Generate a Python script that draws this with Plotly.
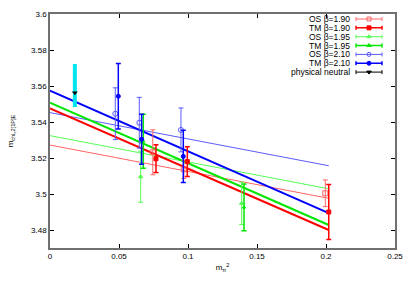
import plotly.graph_objects as go

# ---- data ----
os190_x = [0.0745, 0.0970, 0.1995]
os190_y = [3.5232, 3.5137, 3.5004]
os190_e = [0.0125, 0.0050, 0.0074]

tm190_x = [0.0768, 0.0995, 0.2020]
tm190_y = [3.5196, 3.5180, 3.4900]
tm190_e = [0.0077, 0.0083, 0.0153]

os195_x = [0.0657, 0.1389]
os195_y = [3.5096, 3.4948]
os195_e = [0.0142, 0.0118]

tm195_x = [0.0676, 0.1406]
tm195_y = [3.5293, 3.4926]
tm195_e = [0.0150, 0.0130]

os210_x = [0.0473, 0.0647, 0.0949]
os210_y = [3.5446, 3.5396, 3.5356]
os210_e = [0.0144, 0.0141, 0.0122]

tm210_x = [0.0495, 0.0664, 0.0966]
tm210_y = [3.5543, 3.5304, 3.5209]
tm210_e = [0.0182, 0.0139, 0.0145]

phys_x = [0.018]
phys_y = [3.5563]
phys_eplus = [0.0159]
phys_eminus = [0.0080]

fit_x = [0.0, 0.202]
tm210_fit = [3.5574, 3.4894]
os210_fit = [3.5452, 3.5157]
tm195_fit = [3.5507, 3.4828]
os195_fit = [3.5324, 3.5029]
tm190_fit = [3.5476, 3.4800]
os190_fit = [3.5272, 3.4976]

x_ticks = [0, 0.05, 0.1, 0.15, 0.2, 0.25]
x_ticklabels = ["0", "0.05", "0.1", "0.15", "0.2", "0.25"]
y_ticks = [3.48, 3.5, 3.52, 3.54, 3.56, 3.58, 3.6]
y_ticklabels = ["3.48", "3.5", "3.52", "3.54", "3.56", "3.58", "3.6"]

series_names = ["OS β=1.90", "TM β=1.90", "OS β=1.95", "TM β=1.95",
                "OS β=2.10", "TM β=2.10", "physical neutral"]

# ---- styles ----
C_OS190 = "#ff6464"
C_TM190 = "#ff0000"
C_OS195 = "#55ff55"
C_TM195 = "#00e600"
C_OS210 = "#5a5aff"
C_TM210 = "#0000ff"

FONT = "Liberation Sans"

fig = go.Figure()

# fit lines
fits = [
    (os190_fit, C_OS190, 1),
    (os195_fit, C_OS195, 1),
    (os210_fit, C_OS210, 1),
    (tm190_fit, C_TM190, 2),
    (tm195_fit, C_TM195, 2),
    (tm210_fit, C_TM210, 2),
]
for yv, col, w in fits:
    fig.add_trace(go.Scatter(x=fit_x, y=yv, mode="lines",
                             line=dict(color=col, width=w),
                             showlegend=False, hoverinfo="skip"))

# data points
pts = [
    (os190_x, os190_y, os190_e, C_OS190, "square-open", 1, 5),
    (tm190_x, tm190_y, tm190_e, C_TM190, "square", 1.5, 4),
    (os195_x, os195_y, os195_e, C_OS195, "triangle-up", 1, 4),
    (tm195_x, tm195_y, tm195_e, C_TM195, "triangle-up", 1.5, 3),
    (os210_x, os210_y, os210_e, C_OS210, "circle-open", 1, 5),
    (tm210_x, tm210_y, tm210_e, C_TM210, "circle", 1.5, 4),
]
for (xv, yv, ev, col, sym, ew, ms), nm in zip(pts, series_names):
    fig.add_trace(go.Scatter(
        x=xv, y=yv, mode="markers", name=nm,
        marker=dict(symbol=sym, color=col, size=ms, line=dict(color=col, width=1)),
        error_y=dict(type="data", array=ev, color=col, thickness=ew, width=2.5),
        showlegend=False))

# physical neutral: cyan band + black marker
fig.add_trace(go.Scatter(
    x=phys_x, y=phys_y, mode="markers",
    marker=dict(symbol="triangle-down", color="black", size=5, opacity=0),
    error_y=dict(type="data", symmetric=False, array=phys_eplus,
                 arrayminus=phys_eminus, color="#00e5ee", thickness=4, width=0),
    showlegend=False))
fig.add_trace(go.Scatter(
    x=phys_x, y=phys_y, mode="markers",
    marker=dict(symbol="triangle-down", color="black", size=5),
    showlegend=False))

# ---- manual gnuplot-style key on an overlay axis (pixel-like coords) ----
key_cols = [C_OS190, C_TM190, C_OS195, C_TM195, C_OS210, C_TM210, "black"]
key_syms = ["square-open", "square", "triangle-up", "triangle-up",
            "circle-open", "circle", "triangle-down"]
key_w = [1, 1.5, 1, 1.5, 1, 1.5, 1]
row0, drow = 19.0, 8.85
for i, (nm, col, sym, w) in enumerate(zip(series_names, key_cols, key_syms, key_w)):
    yy = row0 + i * drow
    fig.add_trace(go.Scatter(
        x=[369], y=[yy], mode="markers", xaxis="x2", yaxis="y2",
        marker=dict(symbol=sym, color=col, size=4, line=dict(color=col, width=1)),
        error_x=dict(type="data", array=[13], color=col, thickness=w, width=2),
        showlegend=False, hoverinfo="skip"))
    fig.add_annotation(x=352, y=yy, xref="x2", yref="y2", text=nm,
                       showarrow=False, xanchor="right", yanchor="middle",
                       font=dict(family=FONT, size=8.5, color="black"))

axis_common = dict(showline=True, linecolor="#707070", linewidth=1.5, mirror="allticks",
                   ticks="inside", ticklen=4, tickcolor="black", tickwidth=1,
                   showgrid=False, zeroline=False, automargin=False,
                   tickfont=dict(family=FONT, size=8, color="black"))

fig.update_layout(
    width=409, height=287,
    margin=dict(l=50, r=14, t=14, b=39),
    paper_bgcolor="white", plot_bgcolor="white",
    font=dict(family=FONT, size=8, color="black"),
    xaxis=dict(range=[0, 0.25], tickvals=x_ticks, ticktext=x_ticklabels,
               title=dict(text="m<sub>π</sub><sup>2</sup>", standoff=4,
                          font=dict(family=FONT, size=8)),
               **axis_common),
    yaxis=dict(range=[3.47, 3.6], tickvals=y_ticks, ticktext=y_ticklabels,
               title=dict(text="m<sub>chi<sub>c</sub>2[1P]E</sub>", standoff=16,
                          font=dict(family=FONT, size=8)),
               **axis_common),
    xaxis2=dict(range=[50, 395], overlaying="x", visible=False, anchor="y2",
                automargin=False),
    yaxis2=dict(range=[248, 14], overlaying="y", visible=False, anchor="x2",
                automargin=False),
    showlegend=False,
)

fig.write_html("out.html", config={"displayModeBar": False},
               post_script="document.body.style.margin='0';document.body.style.padding='0';")
